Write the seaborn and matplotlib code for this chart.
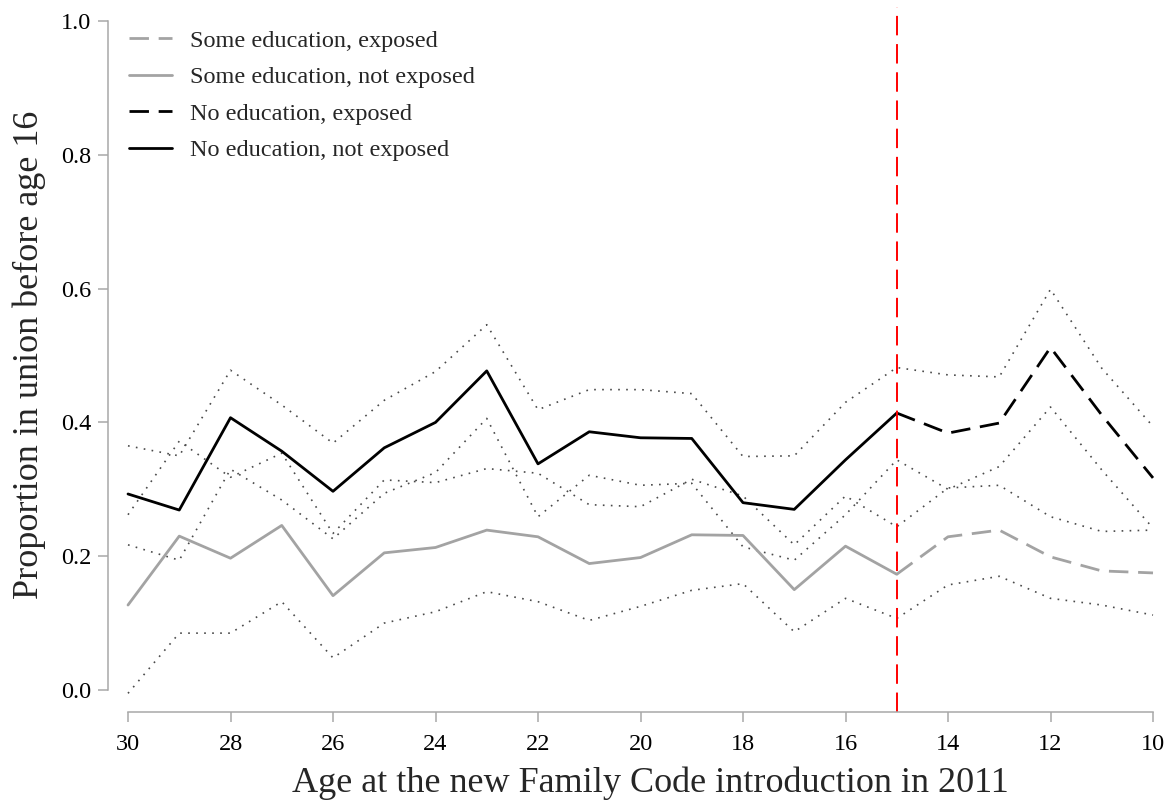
import numpy as np
import pandas as pd
import matplotlib
matplotlib.use("Agg")
import matplotlib.pyplot as plt
import seaborn as sns

# Age at the introduction of the new Family Code (2011)
ages_not_exposed = [30, 29, 28, 27, 26, 25, 24, 23, 22, 21, 20, 19, 18, 17, 16, 15]
ages_exposed = [15, 14, 13, 12, 11, 10]
ages_all = list(range(30, 9, -1))

# Proportion in union before age 16
no_edu_not_exposed = [0.293, 0.269, 0.407, 0.357, 0.297, 0.362, 0.400, 0.477,
                      0.338, 0.386, 0.377, 0.376, 0.280, 0.270, 0.344, 0.414]
no_edu_exposed = [0.414, 0.384, 0.399, 0.512, 0.411, 0.317]
some_edu_not_exposed = [0.127, 0.230, 0.197, 0.246, 0.141, 0.205, 0.213, 0.239,
                        0.229, 0.189, 0.198, 0.232, 0.231, 0.150, 0.215, 0.173]
some_edu_exposed = [0.173, 0.229, 0.239, 0.199, 0.178, 0.175]

# Confidence bounds, ages 30 -> 10
no_edu_upper = [0.365, 0.350, 0.478, 0.426, 0.369, 0.433, 0.476, 0.546, 0.419, 0.449, 0.449,
                0.443, 0.349, 0.350, 0.430, 0.482, 0.471, 0.468, 0.599, 0.481, 0.394]
no_edu_lower = [0.217, 0.194, 0.330, 0.284, 0.226, 0.294, 0.325, 0.406, 0.259, 0.321, 0.306,
                0.309, 0.214, 0.194, 0.262, 0.344, 0.300, 0.334, 0.423, 0.329, 0.242]
some_edu_upper = [0.262, 0.372, 0.318, 0.354, 0.234, 0.314, 0.310, 0.331, 0.324, 0.277, 0.274,
                  0.315, 0.290, 0.217, 0.290, 0.244, 0.302, 0.306, 0.259, 0.237, 0.239]
some_edu_lower = [-0.005, 0.085, 0.085, 0.132, 0.048, 0.100, 0.117, 0.147, 0.132, 0.104, 0.125,
                  0.149, 0.159, 0.087, 0.137, 0.107, 0.157, 0.170, 0.137, 0.127, 0.112]

reform_age = 15

legend_labels = ["Some education, exposed", "Some education, not exposed",
                 "No education, exposed", "No education, not exposed"]

sns.set_style("ticks")
plt.rcParams["font.family"] = ["Liberation Serif", "DejaVu Serif"]

W, H = 1173, 805
fig = plt.figure(figsize=(W / 100, H / 100), dpi=100)
ax = fig.add_axes([108 / W, 1 - 712 / H, 1065 / W, 705 / H])

grey = "#a3a3a3"
dot_col = "#4a4a4a"
lw_main = 2.0
dash_main = (0, (7, 3.5))

# confidence bands (dotted)
for band in (no_edu_upper, no_edu_lower, some_edu_upper, some_edu_lower):
    df = pd.DataFrame({"age": ages_all, "p": band})
    sns.lineplot(data=df, x="age", y="p", ax=ax, color=dot_col, lw=1.2,
                 linestyle=(0, (1, 3.8)), sort=False, legend=False)

series = [
    (ages_exposed, some_edu_exposed, grey, dash_main, legend_labels[0]),
    (ages_not_exposed, some_edu_not_exposed, grey, "-", legend_labels[1]),
    (ages_exposed, no_edu_exposed, "black", dash_main, legend_labels[2]),
    (ages_not_exposed, no_edu_not_exposed, "black", "-", legend_labels[3]),
]
handles = []
for x, y, c, ls, lab in series:
    df = pd.DataFrame({"age": x, "p": y})
    sns.lineplot(data=df, x="age", y="p", ax=ax, color=c, lw=lw_main,
                 linestyle=ls, sort=False, legend=False)
    handles.append(matplotlib.lines.Line2D([], [], color=c, lw=lw_main, linestyle=ls, label=lab))

ax.axvline(reform_age, color="red", lw=1.4, linestyle=(0, (10, 4.5)))

ax.set_xlim(30 + 20 / 51.25, 10 - 20 / 51.25)
ax.set_ylim((690 - 712) / 669, (690 - 7) / 669)

spine_col = "#a8a8a8"
for s in ("top", "right"):
    ax.spines[s].set_visible(False)
for s in ("left", "bottom"):
    ax.spines[s].set_color(spine_col)
    ax.spines[s].set_linewidth(1.1)
ax.spines["left"].set_bounds(0, 1)
ax.spines["bottom"].set_bounds(10, 30)

ax.set_xticks(np.arange(30, 9, -2))
ax.set_yticks(np.arange(0, 1.01, 0.2))
ax.set_yticklabels([f"{v:.1f}" for v in np.arange(0, 1.01, 0.2)])
ax.tick_params(axis="both", colors=spine_col, labelcolor="black", labelsize=17.5,
               length=7, width=1.1)
ax.tick_params(axis="x", pad=9)
ax.tick_params(axis="y", pad=5)

ax.set_xlabel("Age at the new Family Code introduction in 2011", fontsize=26)
ax.set_ylabel("Proportion in union before age 16", fontsize=26)
ax.xaxis.set_label_coords((650 - 108) / 1065, -(783 - 712) / 705)
ax.yaxis.set_label_coords(-(108 - 29) / 1065, (712 - 355) / 705)
ax.xaxis.label.set_verticalalignment("center")
ax.yaxis.label.set_verticalalignment("center")

ax.legend(handles=handles, loc="upper left", bbox_to_anchor=(0.02, 0.968),
          frameon=False, fontsize=17.5, handlelength=1.75, handletextpad=0.75,
          labelspacing=0.6, borderpad=0, borderaxespad=0)

fig.savefig("out.png", dpi=100)
